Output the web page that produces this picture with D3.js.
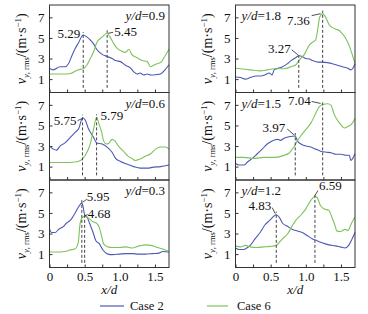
<!DOCTYPE html>
<html><head><meta charset="utf-8">
<script src="https://cdn.jsdelivr.net/npm/d3@7"></script>
<style>
html,body{margin:0;padding:0;background:#fff;}
svg{display:block;font-family:"Liberation Serif","Times New Roman",serif;}
</style></head>
<body><svg id="c" width="368" height="314"></svg>
<script>
// ---------- data ----------
const panelNames = ["0.9","0.6","0.3","1.8","1.5","1.2"];
const xTickLabels = [0, 0.5, 1.0, 1.5];
const yTickValues = [1, 3, 5, 7];
const seriesNames = ["Case 2", "Case 6"];

const case2_09 = [[0,2.06],[0.055,1.9],[0.15,2.2],[0.22,2.2],[0.27,2.5],[0.32,3.3],[0.36,3.9],[0.41,4.5],[0.48,5.29],[0.53,5.1],[0.58,4.8],[0.63,4.4],[0.67,3.9],[0.75,3.4],[0.82,3.2],[0.89,3.0],[0.94,2.8],[1.01,2.7],[1.08,2.35],[1.15,2.1],[1.2,1.7],[1.25,1.5],[1.29,1.6],[1.34,1.4],[1.39,1.5],[1.44,1.4],[1.53,1.45],[1.58,1.5],[1.63,1.8],[1.7,2.4]];
const case6_09 = [[0,1.5],[0.1,1.5],[0.2,1.5],[0.3,1.55],[0.36,1.75],[0.41,1.9],[0.48,2.0],[0.53,2.35],[0.58,3.0],[0.63,3.7],[0.67,4.5],[0.75,5.1],[0.82,5.45],[0.86,5.1],[0.91,4.5],[0.96,4.0],[1.03,3.7],[1.08,3.6],[1.13,3.9],[1.17,3.4],[1.24,3.1],[1.32,2.8],[1.39,2.7],[1.44,2.2],[1.48,2.35],[1.53,2.5],[1.58,2.6],[1.63,3.1],[1.7,3.9]];

const case2_06 = [[0,3.0],[0.055,2.7],[0.1,2.6],[0.15,3.0],[0.22,3.3],[0.29,3.8],[0.36,4.3],[0.42,4.75],[0.47,5.75],[0.51,5.5],[0.55,4.75],[0.63,3.8],[0.67,3.3],[0.75,3.2],[0.82,2.9],[0.89,2.4],[0.94,1.8],[1.01,1.5],[1.1,1.25],[1.2,1.0],[1.29,0.85],[1.39,0.85],[1.48,0.95],[1.58,1.0],[1.7,1.15]];
const case6_06 = [[0,1.4],[0.2,1.4],[0.36,1.45],[0.44,1.6],[0.51,2.1],[0.58,3.2],[0.63,4.75],[0.67,5.79],[0.71,5.0],[0.74,4.4],[0.77,3.5],[0.81,3.2],[0.84,3.25],[0.89,3.65],[0.93,3.5],[0.98,3.0],[1.05,2.5],[1.13,1.95],[1.17,1.8],[1.22,1.6],[1.29,1.75],[1.36,2.0],[1.44,2.25],[1.51,2.7],[1.58,2.9],[1.65,2.9],[1.7,2.7]];

const case2_03 = [[0,3.45],[0.03,3.1],[0.08,3.1],[0.13,3.4],[0.2,3.7],[0.24,4.0],[0.29,4.25],[0.31,4.4],[0.36,4.95],[0.41,5.55],[0.46,5.95],[0.48,5.55],[0.5,4.8],[0.53,4.65],[0.57,4.0],[0.62,3.1],[0.66,2.3],[0.71,2.0],[0.76,1.4],[0.83,1.0],[0.9,0.95],[0.99,1.0],[1.08,1.05],[1.18,1.05],[1.27,1.0],[1.37,1.0],[1.46,1.05],[1.56,1.1],[1.61,1.25],[1.7,1.2]];
const case6_03 = [[0,1.2],[0.1,1.2],[0.22,1.25],[0.29,1.4],[0.36,1.5],[0.41,2.15],[0.43,3.7],[0.46,4.5],[0.5,4.68],[0.55,4.5],[0.62,4.15],[0.67,4.0],[0.71,3.55],[0.74,2.8],[0.77,2.0],[0.83,1.7],[0.9,1.65],[1.0,1.65],[1.09,1.7],[1.18,1.6],[1.28,1.8],[1.37,1.9],[1.44,1.85],[1.51,1.7],[1.61,1.5],[1.7,1.25]];

const case2_18 = [[0,1.2],[0.07,1.15],[0.14,1.0],[0.21,1.15],[0.29,1.3],[0.36,1.3],[0.43,1.45],[0.48,1.6],[0.52,1.4],[0.55,1.9],[0.6,2.05],[0.67,2.2],[0.74,2.5],[0.79,2.8],[0.86,3.1],[0.9,3.27],[0.95,3.2],[1.0,3.0],[1.05,2.95],[1.1,2.8],[1.17,2.65],[1.24,2.65],[1.31,2.6],[1.38,2.5],[1.45,2.35],[1.52,2.2],[1.6,2.05],[1.64,1.9],[1.67,2.05],[1.7,2.5]];
const case6_18 = [[0,2.05],[0.07,2.0],[0.21,1.9],[0.36,1.8],[0.45,1.9],[0.55,2.0],[0.69,2.0],[0.79,2.2],[0.86,2.4],[0.9,2.8],[0.98,3.4],[1.05,4.3],[1.1,4.6],[1.14,4.8],[1.17,5.85],[1.2,7.05],[1.24,7.36],[1.29,6.9],[1.33,6.3],[1.38,6.0],[1.43,5.85],[1.48,5.7],[1.52,5.4],[1.57,4.95],[1.62,4.2],[1.66,3.4],[1.7,2.5]];

const case2_15 = [[0,1.3],[0.05,1.15],[0.12,1.15],[0.17,1.45],[0.24,1.8],[0.31,2.25],[0.38,2.7],[0.45,3.2],[0.52,3.5],[0.6,3.65],[0.64,3.55],[0.69,3.75],[0.76,3.9],[0.81,3.95],[0.85,3.97],[0.88,3.5],[0.93,3.2],[1.0,3.0],[1.07,2.9],[1.14,2.7],[1.21,2.5],[1.29,2.4],[1.36,2.35],[1.43,2.2],[1.5,2.2],[1.57,2.1],[1.62,2.1],[1.64,1.6],[1.68,1.95],[1.7,2.25]];
const case6_15 = [[0,1.9],[0.12,1.9],[0.26,1.8],[0.4,1.9],[0.52,1.9],[0.62,1.95],[0.69,2.1],[0.76,2.3],[0.83,2.9],[0.88,3.5],[0.93,4.0],[1.0,4.6],[1.07,5.2],[1.14,6.15],[1.19,6.8],[1.24,7.04],[1.31,7.1],[1.36,6.95],[1.4,6.15],[1.45,5.5],[1.5,5.05],[1.55,4.75],[1.6,4.9],[1.64,5.05],[1.68,5.4],[1.7,5.7]];

const case2_12 = [[0,1.6],[0.05,1.45],[0.12,1.45],[0.16,1.6],[0.21,1.85],[0.28,2.5],[0.35,3.1],[0.42,3.85],[0.49,4.3],[0.53,4.6],[0.58,4.83],[0.63,4.5],[0.67,4.0],[0.74,3.7],[0.81,3.4],[0.88,3.25],[0.95,3.1],[1.02,2.8],[1.09,2.5],[1.16,2.3],[1.23,2.1],[1.33,1.9],[1.42,1.8],[1.49,1.7],[1.56,1.6],[1.61,1.85],[1.66,2.5],[1.7,3.1]];
const case6_12 = [[0,1.8],[0.07,1.7],[0.14,1.85],[0.21,1.7],[0.3,1.65],[0.4,1.7],[0.49,1.75],[0.58,1.85],[0.63,2.2],[0.67,2.5],[0.74,2.95],[0.79,3.55],[0.86,4.3],[0.93,4.8],[1.0,5.4],[1.07,6.2],[1.13,6.59],[1.16,6.5],[1.21,5.7],[1.26,5.4],[1.33,5.25],[1.37,4.6],[1.42,3.7],[1.44,3.25],[1.49,3.2],[1.56,3.4],[1.6,3.3],[1.65,4.0],[1.7,4.6]];

const case2Series = [case2_09, case2_06, case2_03, case2_18, case2_15, case2_12];
const case6Series = [case6_09, case6_06, case6_03, case6_18, case6_15, case6_12];
const case2PeakX = [0.48, 0.47, 0.46, 0.90, 0.85, 0.58];
const case2PeakV = [5.29, 5.75, 5.95, 3.27, 3.97, 4.83];
const case6PeakX = [0.82, 0.67, 0.50, 1.24, 1.24, 1.13];
const case6PeakV = [5.45, 5.79, 4.68, 7.36, 7.04, 6.59];

// ---------- layout / style ----------
const colors = ["#4a5ab5", "#7dc25a"];
const cols = [[49.5, 169], [235.5, 355]];
const rows = [[5, 92.5], [92.5, 180], [180, 267.5]];
const lab2 = [
  [-3, 3, "end", null],
  [-6, 7, "end", [-1, 1, -5, 3]],
  [5, -2, "start", [1, -1, 5, -4]],
  [-8, -3, "end", [-1, -1, -7, -6]],
  [-10, -4, "end", [-1, -1, -8, -7]],
  [-5, -5, "end", [-1, -1, -4, -7]]
];
const lab6 = [
  [7, 3, "start", [1, 0, 6, -1]],
  [4, 3, "start", null],
  [3, 2, "start", [0, 0, 3, -2]],
  [-13, 11, "end", [-2, 0, -11, 2]],
  [-12, 1, "end", [-2, -1, -11, -3]],
  [4, -7, "start", [0, -1, 3, -6]]
];

const svg = d3.select("#c");
const font = '"Liberation Serif","Times New Roman",serif';

function drawPanel(i) {
  const c = Math.floor(i / 3), r = i % 3;
  const [x0, x1] = cols[c], [y0, y1] = rows[r];
  const x = d3.scaleLinear().domain([0, 1.7]).range([x0, x1]);
  const y = d3.scaleLinear().domain([-0.3, 8.2]).range([y1, y0]);
  const g = svg.append("g");

  const xa = d3.axisBottom(x).tickValues(d3.range(0, 1.71, 0.25)).tickSize(-3).tickPadding(4)
    .tickFormat(d => (r === 2 && xTickLabels.some(v => Math.abs(v - d) < 1e-9)) ? (d === 0 ? "0" : d3.format(".1f")(d)) : "");
  const xg = g.append("g").attr("transform", `translate(0,${y1})`).call(xa);
  xg.select(".domain").remove();
  xg.selectAll("line").attr("stroke", "#333");
  xg.selectAll("text").attr("font-family", font).attr("font-size", 13).attr("fill", "#111");

  const ya = d3.axisLeft(y).tickValues(yTickValues).tickSize(-3).tickPadding(5).tickFormat(d3.format("d"));
  const yg = g.append("g").attr("transform", `translate(${x0},0)`).call(ya);
  yg.select(".domain").remove();
  yg.selectAll("line").attr("stroke", "#333");
  yg.selectAll("text").attr("font-family", font).attr("font-size", 13).attr("fill", "#111");

  const line = d3.line().x(d => x(d[0])).y(d => y(d[1])).curve(d3.curveMonotoneX);
  [case2Series[i], case6Series[i]].forEach((s, k) => {
    g.append("path").datum(s).attr("d", line).attr("fill", "none")
      .attr("stroke", colors[k]).attr("stroke-width", 1.1);
  });

  [[case2PeakX[i], case2PeakV[i], lab2[i]], [case6PeakX[i], case6PeakV[i], lab6[i]]].forEach(([px, pv, L]) => {
    const X = x(px), Y = y(pv);
    g.append("line").attr("x1", X).attr("x2", X).attr("y1", y(0.15)).attr("y2", Y - 3)
      .attr("stroke", "#444").attr("stroke-width", 1).attr("stroke-dasharray", "3,2");
    g.append("text").attr("x", X + L[0]).attr("y", Y + L[1]).attr("text-anchor", L[2])
      .attr("font-family", font).attr("font-size", 13).attr("fill", "#111").text(d3.format(".2f")(pv));
    if (L[3]) {
      g.append("line").attr("x1", X + L[3][0]).attr("y1", Y + L[3][1]).attr("x2", X + L[3][2]).attr("y2", Y + L[3][3])
        .attr("stroke", "#222").attr("stroke-width", 0.8);
    }
  });

  g.append("rect").attr("x", x0).attr("y", y0).attr("width", x1 - x0).attr("height", y1 - y0)
    .attr("fill", "none").attr("stroke", "#333").attr("stroke-width", 1);

  const t = g.append("text").attr("font-family", font).attr("font-size", 13).attr("fill", "#111")
    .attr("y", y0 + 15);
  if (c === 0) t.attr("x", x1 - 4).attr("text-anchor", "end");
  else t.attr("x", x0 + 6).attr("text-anchor", "start");
  t.append("tspan").attr("font-style", "italic").text("y/d");
  t.append("tspan").text("=" + panelNames[i]);

  const cy = (y0 + y1) / 2, tx = x0 - 24;
  const yt = g.append("text").attr("transform", `translate(${tx},${cy}) rotate(-90)`)
    .attr("text-anchor", "middle").attr("font-family", font).attr("font-size", 14).attr("fill", "#111");
  yt.append("tspan").attr("font-style", "italic").text("v");
  yt.append("tspan").attr("font-size", 8.5).attr("dy", 3).attr("font-style", "italic").text("y");
  yt.append("tspan").attr("font-size", 8.5).text(", rms");
  yt.append("tspan").attr("dy", -3).text("/(m·s");
  yt.append("tspan").attr("font-size", 9).attr("dy", -5).text("−1");
  yt.append("tspan").attr("dy", 5).text(")");

  if (r === 2) {
    g.append("text").attr("x", (x0 + x1) / 2).attr("y", 294).attr("text-anchor", "middle")
      .attr("font-family", font).attr("font-size", 13).attr("font-style", "italic").attr("fill", "#111").text("x/d");
  }
}
d3.range(6).forEach(drawPanel);

const legX = [[100, 124, 130], [207, 228, 237]];
seriesNames.forEach((n, k) => {
  const [a, b, tx] = legX[k];
  svg.append("line").attr("x1", a).attr("x2", b).attr("y1", 306).attr("y2", 306)
    .attr("stroke", colors[k]).attr("stroke-width", 1.2);
  svg.append("text").attr("x", tx).attr("y", 310).attr("font-family", font).attr("font-size", 12.5)
    .attr("fill", "#111").text(n);
});
</script></body></html>
